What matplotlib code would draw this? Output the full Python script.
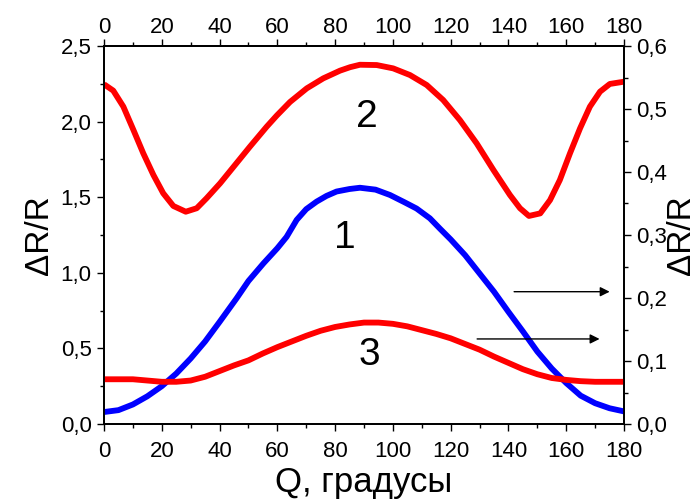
import matplotlib
matplotlib.use("Agg")
import matplotlib.pyplot as plt
from matplotlib.ticker import MultipleLocator, FuncFormatter

plt.rcParams['font.family'] = ['Liberation Sans', 'DejaVu Sans']

# curve 2 (left axis)
deg2 = [0, 3.2, 6.7, 10.2, 13.6, 17.1, 20.5, 24, 28.3, 32.1, 35.5, 40.2, 44.8,
        50.5, 56.3, 59.8, 64.4, 70.2, 75.9, 81.7, 85.2, 88.6, 94.4, 100.1, 105.9,
        111.7, 117.4, 123.2, 129, 134.8, 140.5, 144, 147.1, 151, 154.4, 157.8,
        161.3, 164.8, 168.2, 171.7, 175.1, 180]
curve2 = [2.247, 2.205, 2.099, 1.944, 1.79, 1.647, 1.526, 1.442, 1.404, 1.427,
          1.493, 1.592, 1.70, 1.834, 1.966, 2.04, 2.13, 2.22, 2.286, 2.337, 2.36,
          2.376, 2.374, 2.352, 2.308, 2.242, 2.143, 2.01, 1.856, 1.68, 1.515,
          1.427, 1.376, 1.393, 1.481, 1.614, 1.79, 1.956, 2.099, 2.198, 2.249,
          2.264]

# curve 1 (right axis)
deg1 = [0, 5, 10, 15, 20, 25, 30, 35, 40, 45.9, 50, 55.2, 60, 63.2, 66.7, 70,
        73.6, 77, 80.5, 85, 88.6, 94, 99, 104, 108.2, 112.8, 116.3, 120, 125, 130,
        135, 140, 145, 150, 155, 160, 165, 170, 175, 180]
curve1 = [0.019, 0.022, 0.031, 0.044, 0.06, 0.08, 0.104, 0.131, 0.162, 0.1995,
          0.227, 0.255, 0.279, 0.297, 0.324, 0.341, 0.353, 0.362, 0.369, 0.373,
          0.375, 0.372, 0.3635, 0.352, 0.342, 0.3265, 0.310, 0.293, 0.268, 0.239,
          0.210, 0.178, 0.147, 0.115, 0.088, 0.065, 0.045, 0.033, 0.025, 0.020]

# curve 3 (right axis)
deg3 = [0, 5, 10, 15, 20, 25, 30, 35, 40, 45, 50, 55, 60, 65, 70, 75, 80, 85, 90,
        95, 100, 105, 110, 115, 120, 125, 130, 135, 140, 145, 150, 155, 160, 165,
        170, 175, 180]
curve3 = [0.071, 0.071, 0.071, 0.069, 0.067, 0.067, 0.069, 0.075, 0.084, 0.093,
          0.101, 0.112, 0.122, 0.131, 0.140, 0.148, 0.154, 0.158, 0.161, 0.161,
          0.159, 0.155, 0.149, 0.143, 0.136, 0.127, 0.118, 0.107, 0.097, 0.087,
          0.079, 0.073, 0.070, 0.068, 0.067, 0.067, 0.067]

comma = FuncFormatter(lambda v, p: ("%.1f" % v).replace(".", ","))
intfmt = FuncFormatter(lambda v, p: "%d" % v)

fig = plt.figure(figsize=(6.99, 5), dpi=100)
ax = fig.add_axes([104 / 699, 1 - 424 / 500, 520 / 699, 378 / 500])
ax2 = ax.twinx()

ax.plot(deg2, curve2, color="#ff0000", lw=4.2, solid_capstyle="butt")
ax2.plot(deg1, curve1, color="#0000ff", lw=4.2, solid_capstyle="butt")
ax2.plot(deg3, curve3, color="#ff0000", lw=4.2, solid_capstyle="butt")

ax.set_xlim(0, 180)
ax.set_ylim(0, 2.5)
ax2.set_ylim(0, 0.6)

top = ax.secondary_xaxis("top")

for xa in (ax.xaxis, top.xaxis):
    xa.set_major_locator(MultipleLocator(20))
    xa.set_minor_locator(MultipleLocator(10))
    xa.set_major_formatter(intfmt)
ax.yaxis.set_major_locator(MultipleLocator(0.5))
ax.yaxis.set_minor_locator(MultipleLocator(0.25))
ax.yaxis.set_major_formatter(comma)
ax2.yaxis.set_major_locator(MultipleLocator(0.1))
ax2.yaxis.set_minor_locator(MultipleLocator(0.05))
ax2.yaxis.set_major_formatter(comma)

for a in (ax, ax2, top):
    a.tick_params(which="both", direction="out", labelsize=16, width=1.0,
                  color="black", pad=4)
    a.tick_params(which="major", length=5)
    a.tick_params(which="minor", length=3)
    for s in a.spines.values():
        s.set_linewidth(1.3)
ax.tick_params(axis="x", which="both", pad=7)
top.tick_params(axis="x", which="both", pad=1)

ax.set_xlabel("Q, градусы", fontsize=25, labelpad=3)
ax.set_ylabel("ΔR/R", fontsize=24, labelpad=4)
ax2.set_ylabel("ΔR/R", fontsize=24, labelpad=-1)

ax.text(83.4, 1.23, "1", fontsize=28, ha="center", va="center")
ax.text(90.9, 2.03, "2", fontsize=28, ha="center", va="center")
ax.text(91.7, 0.456, "3", fontsize=28, ha="center", va="center")

arrow = dict(arrowstyle="-|>", color="black", lw=1.0, mutation_scale=14)
ax2.annotate("", xy=(176, 0.210), xytext=(141, 0.210), arrowprops=arrow)
ax2.annotate("", xy=(172.5, 0.135), xytext=(128.2, 0.135), arrowprops=arrow)

fig.savefig("out.png", dpi=100)
